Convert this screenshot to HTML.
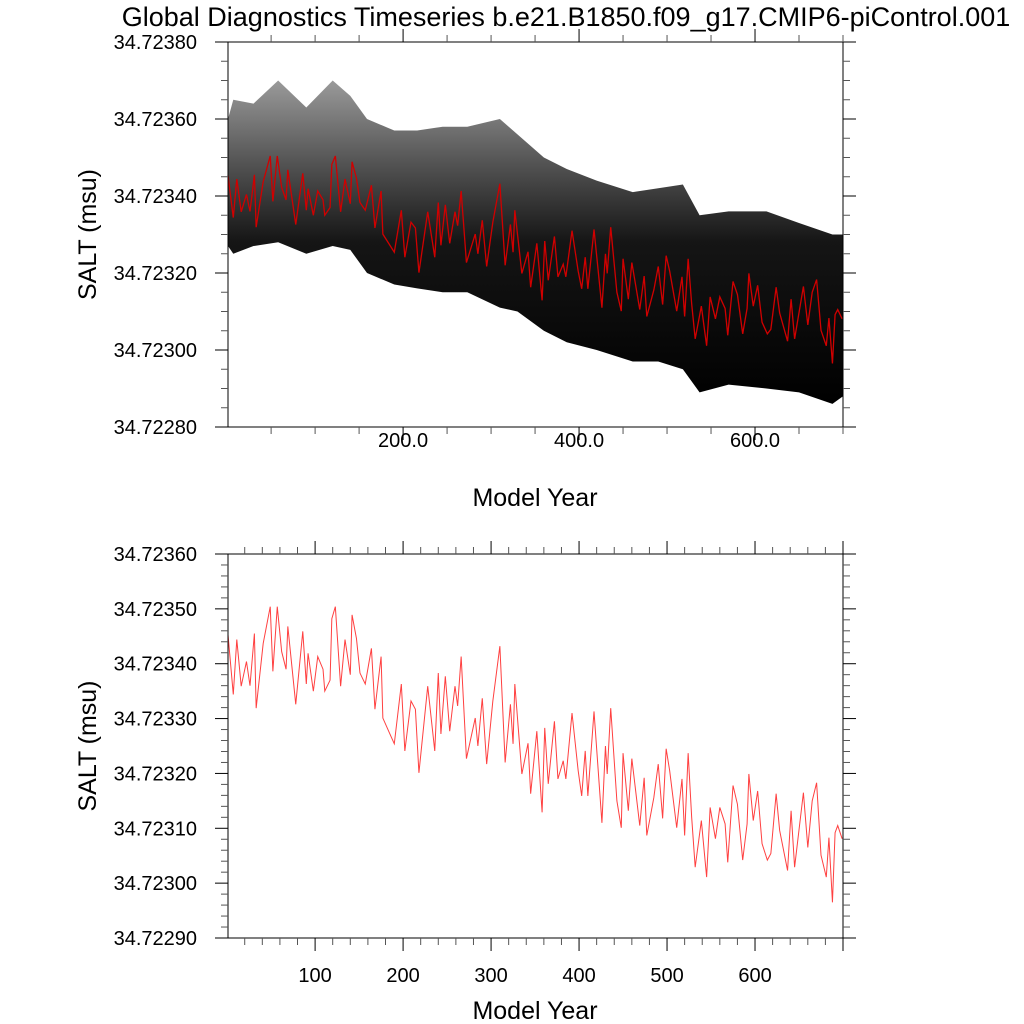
<!DOCTYPE html>
<html><head><meta charset="utf-8"><style>
body{margin:0;background:#fff}
svg{display:block;font-family:"Liberation Sans",sans-serif}
</style></head><body>
<svg id="chart" width="1024" height="1024" viewBox="0 0 1024 1024" xmlns="http://www.w3.org/2000/svg">
<defs>
<linearGradient id="bandGrad" x1="0" y1="0" x2="0" y2="1">
<stop offset="0" stop-color="#9a9a9a"/>
<stop offset="0.25" stop-color="#555"/>
<stop offset="0.5" stop-color="#151515"/>
<stop offset="1" stop-color="#000"/>
</linearGradient>
</defs>
<text x="566" y="26" font-size="27" text-anchor="middle">Global Diagnostics Timeseries b.e21.B1850.f09_g17.CMIP6-piControl.001</text>
<g id="top"></g>
<g id="bot"></g>
</svg>
<script>
// annual-mean SALT, offsets in 1e-5 msu above 34.72300
const years=[1,7,11,16,22,26,31,33,41,49,52,57,62,67,69,78,86,90,92,98,103,109,111,117,119,123,129,134,140,142,147,151,157,164,168,175,177,185,190,198,202,209,214,218,228,236,240,243,248,253,259,262,266,272,282,285,290,295,302,310,316,322,325,327,335,342,345,352,358,361,365,372,376,382,385,392,399,403,407,410,417,426,430,432,436,443,448,450,456,460,469,474,477,485,490,495,499,503,511,517,520,524,528,532,539,545,549,555,560,566,569,575,580,586,591,593,598,603,608,614,618,624,628,637,641,645,655,660,665,670,675,681,684,688,691,694,699];
const annual=[45.3,34.4,44.4,35.9,40.4,36,45.5,31.9,43.7,50.4,38.6,50.4,42.2,39,46.8,32.6,45.9,36.3,41.9,35,41.3,39,35,37,48.2,50.4,35.9,44.4,38,48.9,44.6,38.3,36.3,42.8,31.7,41.3,30.1,27.2,25.4,36.3,24.1,33.2,31.7,20.1,35.9,24.1,38.3,27.2,37.7,27.7,35.9,32.3,41.3,22.7,30.1,25,33.7,21.7,33.2,43.2,22,32.6,25.4,36.3,19.9,25.5,16.3,27.7,12.9,28.3,18.1,29.5,19,22.3,19,31,20.5,15.9,24.1,15.9,31.3,11,25,19.9,31.9,15,10.1,23.7,13.2,22.7,10.5,19.2,8.7,15.6,21.7,11.8,24.5,20.5,10.1,19,8.7,23.7,12,2.9,11.4,1.1,13.8,8.1,13.8,10.8,3.8,17.8,14.4,4.2,10.8,19.9,11.4,16.8,7.2,4.2,5.4,16.3,9.6,2.3,13.2,2.9,16.5,6.5,15,18.3,5.1,1.1,8.3,-3.5,9.2,10.5,8.1];
// monthly envelope
const envYears=[1,7,30,58,90,120,140,159,190,216,245,273,310,330,360,386,420,461,490,518,537,570,613,650,688,700];
const envHigh=[60,65,64,70,63,70,66,60,57,57,58,58,60,56,50,47,44,41,42,43,35,36,36,33,30,30];
const envLow=[27,25,27,28,25,27,26,20,17,16,15,15,11,10,5,2,0,-3,-3,-5,-11,-9,-10,-11,-14,-12];
const topTicks=["34.72280","34.72300","34.72320","34.72340","34.72360","34.72380"];
const botTicks=["34.72290","34.72300","34.72310","34.72320","34.72330","34.72340","34.72350","34.72360"];
const topXTicks=["200.0","400.0","600.0"];
const botXTicks=["100","200","300","400","500","600"];

const NS="http://www.w3.org/2000/svg";
function mk(p,t,a){const e=document.createElementNS(NS,t);for(const k in a)e.setAttribute(k,a[k]);p.appendChild(e);return e;}
const X0=228,X1=843,YR0=1,YR1=700;
const xs=y=>X0+(y-YR0)/(YR1-YR0)*(X1-X0);

function panel(g,top,bottom,vmin,vmax,yLabels,yMinorN,xLabels,xMajor,xMinor,xLabY,titleY){
  const ys=v=>bottom-(v-vmin)/(vmax-vmin)*(bottom-top);
  return {ys,draw:function(){
    const fr=mk(g,'rect',{x:X0,y:top,width:X1-X0,height:bottom-top,fill:'none',stroke:'#000','stroke-width':1});
    
    const n=yLabels.length;
    for(let i=0;i<n;i++){
      const v=vmin+(vmax-vmin)*i/(n-1),y=ys(v);
      mk(g,'line',{x1:X0-13,x2:X0,y1:y,y2:y,stroke:'#000'});
      mk(g,'line',{x1:X1,x2:X1+13,y1:y,y2:y,stroke:'#000'});
      const t=mk(g,'text',{x:197,y:y+7,'font-size':20,'text-anchor':'end'});t.textContent=yLabels[i];
      
      if(i<n-1)for(let j=1;j<yMinorN;j++){const yy=y-(bottom-top)/(n-1)*j/yMinorN;
        mk(g,'line',{x1:X0-7,x2:X0,y1:yy,y2:yy,stroke:'#555'});mk(g,'line',{x1:X1,x2:X1+7,y1:yy,y2:yy,stroke:'#555'});}
    }
    for(let yr=0;yr<=YR1;yr+=xMinor){const x=xs(yr);if(x<X0-0.5)continue;
      const maj=yr%xMajor===0&&yr>0;const L=maj?13:7;
      mk(g,'line',{x1:x,x2:x,y1:top-L,y2:top,stroke:maj?'#000':'#555'});
      mk(g,'line',{x1:x,x2:x,y1:bottom,y2:bottom+L,stroke:maj?'#000':'#555'});}
    xLabels.forEach((s,i)=>{const t=mk(g,'text',{x:xs(xMajor*(i+1)),y:xLabY,'font-size':20,'text-anchor':'middle'});t.textContent=s;
      });
    const xt=mk(g,'text',{x:535,y:titleY,'font-size':25,'text-anchor':'middle'});xt.textContent='Model Year';
    
    const cy=(top+bottom)/2;
    const yt=mk(g,'text',{x:96,y:cy,'font-size':25,'text-anchor':'middle',transform:`rotate(-90 96 ${cy})`});yt.textContent='SALT (msu)';
    
  }};
}
const off=v=>34.723+v*1e-5;
// TOP
const gt=document.getElementById('top');
const P1=panel(gt,42,427,34.7228,34.7238,topTicks,4,topXTicks,200,50,447,506);
let up=envYears.map((y,i)=>xs(y)+','+P1.ys(off(envHigh[i]))).join(' ');
let lo=envYears.map((y,i)=>xs(y)+','+P1.ys(off(envLow[i]))).reverse().join(' ');
const band=mk(gt,'polygon',{points:up+' '+lo,fill:'url(#bandGrad)'});

const l1=mk(gt,'polyline',{points:years.map((y,i)=>xs(y)+','+P1.ys(off(annual[i]))).join(' '),fill:'none',stroke:'#d00000','stroke-width':1.3});

P1.draw();
// BOTTOM
const gb=document.getElementById('bot');
const P2=panel(gb,554,938,34.7229,34.7236,botTicks,5,botXTicks,100,20,982,1019);
const l2=mk(gb,'polyline',{points:years.map((y,i)=>xs(y)+','+P2.ys(off(annual[i]))).join(' '),fill:'none',stroke:'#ff4040','stroke-width':1});

P2.draw();
</script>
</body></html>
